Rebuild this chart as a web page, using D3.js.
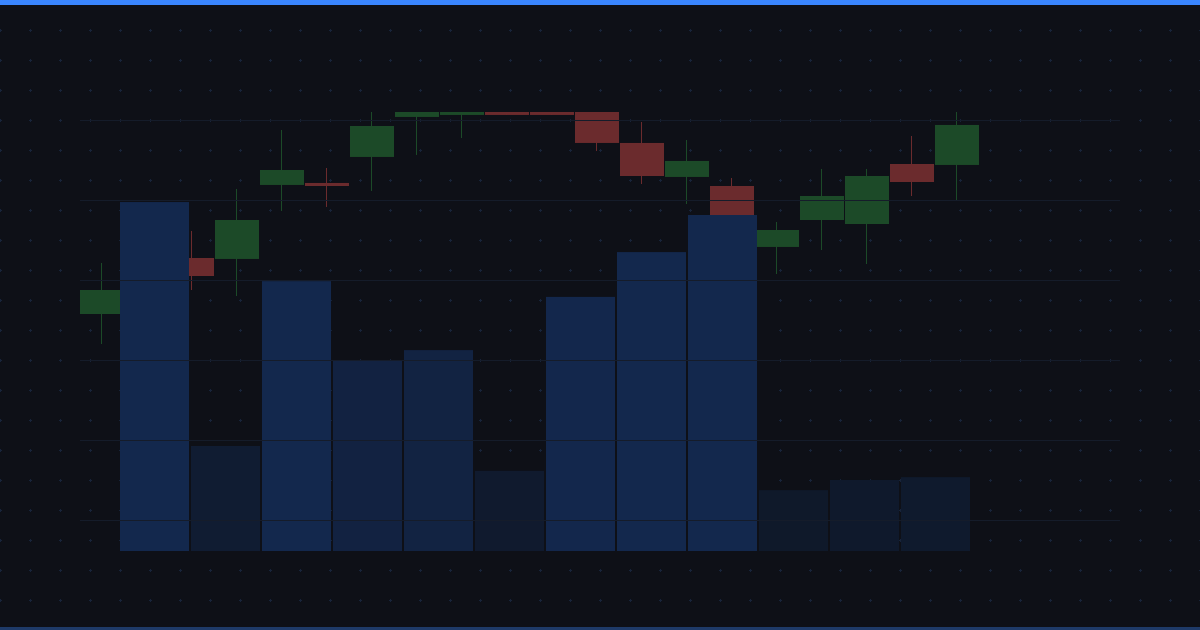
<!DOCTYPE html>
<html>
<head>
<meta charset="utf-8">
<script src="https://cdn.jsdelivr.net/npm/d3@7"></script>
<style>
html,body{margin:0;padding:0;background:#0e1017;}
svg{display:block;}
</style>
</head>
<body>
<svg id="chart" width="1200" height="630"></svg>
<script>
// ---- data ----
const candleIdx = d3.range(20);
const opens  = [125.75,128.75,132.75,132.63,141.88,142.13,145.38,150.38,150.63,155.0,154.0,151.5,147.13,142.88,141.75,134.13,137.5,137.0,144.5,144.38];
const closes = [128.75,132.0,130.5,137.5,143.75,141.75,149.25,152.0,153.5,150.63,150.63,147.13,143.0,144.88,137.25,136.25,140.5,143.0,142.25,149.38];
const highs  = [132.13,133.5,136.13,141.38,148.75,144.0,151.5,153.0,154.5,156.0,155.0,152.5,149.75,147.5,142.75,137.25,143.88,143.88,148.0,151.0];
const lows   = [122.0,127.5,128.75,128.0,138.63,139.13,141.13,145.63,147.75,150.63,150.63,146.13,142.0,139.5,136.25,130.75,133.75,132.0,140.5,140.0];
const volIdx = d3.range(12);
const volumes = [99.7,30.0,77.1,54.3,57.4,22.9,72.6,85.4,96.0,17.4,20.3,21.1];
const priceTicks = [100,110,120,130,140,150];

const W = 1200, H = 630;
const svg = d3.select("#chart");

// background
svg.append("rect").attr("width", W).attr("height", H).attr("fill", "#0e1017");

// cross pattern grid
const crossG = svg.append("g");
const cx = d3.range(0, 1201, 30), cy = d3.range(30, 601, 30);
let p = "";
cy.forEach(y => cx.forEach(x => {
  p += `M${x-1},${y+0.5}H${x+2}M${x+0.5},${y-1}V${y+2}`;
}));
crossG.append("path").attr("d", p).attr("stroke", "#18243a").attr("stroke-width", 1).attr("fill", "none");

// scales
const x = d3.scaleBand().domain(candleIdx).range([80, 979]).paddingInner(1/45).paddingOuter(0);
const y = d3.scaleLinear().domain([100, 150]).range([520, 120]);
const xv = d3.scaleBand().domain(volIdx).range([120, 970]).paddingInner(2/71).paddingOuter(0);
const yv = d3.scaleLinear().domain([0, 100]).range([551, 201]);
const volColor = d3.scaleLinear().domain([15, 75]).range(["#0f1829", "#13284d"]).clamp(true);

// candles
svg.append("clipPath").attr("id", "clip").append("rect")
  .attr("x", 0).attr("y", 112).attr("width", W).attr("height", 520);
const cg = svg.append("g").attr("clip-path", "url(#clip)");
const up = "#1c4a28", down = "#6b2b2d";
const candles = candleIdx.map(i => ({i, o: opens[i], c: closes[i], h: highs[i], l: lows[i]}));
cg.selectAll(".wick").data(candles).join("rect")
  .attr("x", d => Math.round(x(d.i) + x.bandwidth()/2) - 1)
  .attr("width", 1)
  .attr("y", d => y(d.h))
  .attr("height", d => y(d.l) - y(d.h))
  .attr("fill", d => d.c >= d.o ? up : down);
cg.selectAll(".body").data(candles).join("rect")
  .attr("x", d => x(d.i))
  .attr("width", x.bandwidth())
  .attr("y", d => Math.min(y(d.o), y(d.c)))
  .attr("height", d => Math.max(1, Math.abs(y(d.o) - y(d.c))))
  .attr("fill", d => d.c >= d.o ? up : down);

// volume bars
svg.append("g").selectAll("rect").data(volIdx).join("rect")
  .attr("x", i => xv(i))
  .attr("width", xv.bandwidth())
  .attr("y", i => yv(volumes[i]))
  .attr("height", i => yv(0) - yv(volumes[i]))
  .attr("fill", i => volColor(volumes[i]));

// horizontal grid lines on top
svg.append("g").selectAll("line").data(priceTicks).join("line")
  .attr("x1", 80).attr("x2", 1120)
  .attr("y1", d => y(d) + 0.5).attr("y2", d => y(d) + 0.5)
  .attr("stroke", "#151c2a").attr("stroke-width", 1);

// top and bottom bars
svg.append("rect").attr("x", 0).attr("y", 0).attr("width", W).attr("height", 5).attr("fill", "#3a86ff");
svg.append("rect").attr("x", 0).attr("y", 627).attr("width", W).attr("height", 3).attr("fill", "#1e3a68");
</script>
</body>
</html>
